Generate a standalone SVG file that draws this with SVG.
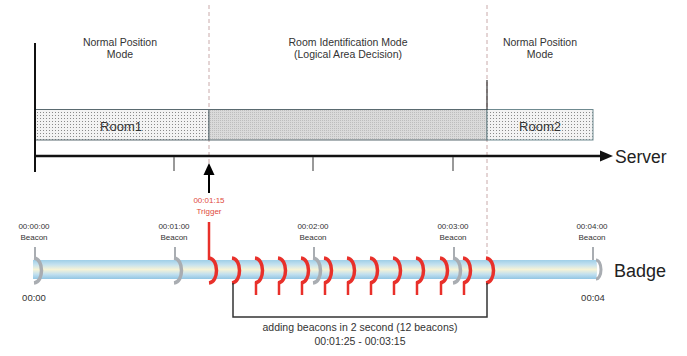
<svg xmlns="http://www.w3.org/2000/svg" width="687" height="356" viewBox="0 0 687 356">
<defs>
<pattern id="dots" width="3" height="3" patternUnits="userSpaceOnUse">
<rect width="3" height="3" fill="#f3f3f3"/><rect x="1" y="1" width="1" height="1" fill="#8a8a8a"/>
</pattern>
<pattern id="dots2" width="2" height="2" patternUnits="userSpaceOnUse">
<rect width="2" height="2" fill="#dadada"/><rect x="0" y="0" width="1" height="1" fill="#bdbdbd"/>
</pattern>
<linearGradient id="tube" x1="0" y1="0" x2="0" y2="1">
<stop offset="0" stop-color="#9fcfe8"/><stop offset="0.25" stop-color="#c6e2ef"/><stop offset="0.5" stop-color="#f6f3d6"/><stop offset="0.75" stop-color="#c2e0ef"/><stop offset="1" stop-color="#92c6e3"/>
</linearGradient>
<path id="arc" d="M-6,258 C4,259 4,282 -6,283" fill="none"/>
</defs>
<style>
text{font-family:"Liberation Sans",Arial,sans-serif;fill:#333}
.mode{font-size:10.5px}
.room{font-size:13px}
.small{font-size:8px}
.red{fill:#e04a3c}
.dash{stroke:#c9aaaa;stroke-width:1;stroke-dasharray:4,3;fill:none}
.ra{stroke:#e8302a;stroke-width:3.5;fill:none}
.ga{stroke:#a9adb2;stroke-width:3.5;fill:none}
.rs{stroke:#e8302a;stroke-width:2.5}
.gs{stroke:#a9adb2;stroke-width:2}
.tick{stroke:#555;stroke-width:1.2}
</style>
<rect width="687" height="356" fill="#fff"/>

<g id="modes">
<text class="mode" x="120" y="46" text-anchor="middle">Normal Position</text>
<text class="mode" x="120" y="58" text-anchor="middle">Mode</text>
<text class="mode" x="348" y="46" text-anchor="middle">Room Identification Mode</text>
<text class="mode" x="348" y="58" text-anchor="middle">(Logical Area Decision)</text>
<text class="mode" x="540" y="46" text-anchor="middle">Normal Position</text>
<text class="mode" x="540" y="58" text-anchor="middle">Mode</text>
</g>

<g id="guides">
<line class="dash" x1="209" y1="5" x2="209" y2="163"/>
<line class="dash" x1="487" y1="5" x2="487" y2="262"/>
</g>

<g id="room1">
<rect x="35" y="109.5" width="174" height="30.5" fill="url(#dots)" stroke="#5a6a70" stroke-width="1"/>
<text class="room" x="121" y="131" text-anchor="middle">Room1</text>
</g>
<g id="roomid">
<rect x="209" y="109.5" width="278" height="30.5" fill="url(#dots2)" stroke="#5a6a70" stroke-width="1"/>
</g>
<g id="room2">
<rect x="487" y="109.5" width="106" height="30.5" fill="url(#dots)" stroke="#6f8a90" stroke-width="1"/>
<text class="room" x="540" y="131" text-anchor="middle">Room2</text>
</g>

<g id="server">
<line x1="35" y1="43" x2="35" y2="172" stroke="#111" stroke-width="2"/>
<line x1="487" y1="80" x2="487" y2="110" stroke="#333" stroke-width="1.2"/>
<line x1="35" y1="156" x2="603" y2="156" stroke="#111" stroke-width="2.5"/>
<path d="M613,156 L600,150.5 L600,161.5 z" fill="#111"/>
<line class="tick" x1="174" y1="157" x2="174" y2="171"/>
<line class="tick" x1="313" y1="157" x2="313" y2="171"/>
<line class="tick" x1="453" y1="157" x2="453" y2="171"/>
<text x="615" y="163" font-size="17.5" style="fill:#222">Server</text>
</g>

<g id="badge">
<path d="M33,260 H596 a1,9.5 0 0 1 0,19 H33 z" fill="url(#tube)"/>
<path d="M596,260 a5,9.5 0 0 1 0,19" fill="none" stroke="#a9adb2" stroke-width="3"/>
<text x="614" y="277" font-size="18" style="fill:#222">Badge</text>
<text x="34" y="301" font-size="9.5" text-anchor="middle">00:00</text>
<text x="593" y="301" font-size="9.5" text-anchor="middle">00:04</text>
</g>

<g id="beacons">
<g transform="translate(40,0)"><use href="#arc" class="ga"/><line class="gs" x1="-5" y1="247" x2="-5" y2="259"/></g>
<g transform="translate(180,0)"><use href="#arc" class="ga"/><line class="gs" x1="-5" y1="247" x2="-5" y2="259"/></g>
<g transform="translate(319,0)"><use href="#arc" class="ga"/><line class="gs" x1="-5" y1="247" x2="-5" y2="259"/></g>
<g transform="translate(459,0)"><use href="#arc" class="ga"/><line class="gs" x1="-5" y1="247" x2="-5" y2="259"/></g>
<line class="gs" x1="593" y1="247" x2="593" y2="260"/>
<text class="small" x="34" y="229" text-anchor="middle">00:00:00</text>
<text class="small" x="34" y="240" text-anchor="middle">Beacon</text>
<text class="small" x="174" y="229" text-anchor="middle">00:01:00</text>
<text class="small" x="174" y="240" text-anchor="middle">Beacon</text>
<text class="small" x="313" y="229" text-anchor="middle">00:02:00</text>
<text class="small" x="313" y="240" text-anchor="middle">Beacon</text>
<text class="small" x="453" y="229" text-anchor="middle">00:03:00</text>
<text class="small" x="453" y="240" text-anchor="middle">Beacon</text>
<text class="small" x="592" y="229" text-anchor="middle">00:04:00</text>
<text class="small" x="592" y="240" text-anchor="middle">Beacon</text>
</g>

<g id="trigger">
<line x1="209" y1="193" x2="209" y2="172" stroke="#000" stroke-width="2"/>
<path d="M209,163 L203.5,175 L214.5,175 z" fill="#000"/>
<text class="small red" x="209" y="203" text-anchor="middle">00:01:15</text>
<text class="small red" x="209" y="214" text-anchor="middle">Trigger</text>
<line class="rs" x1="209" y1="222" x2="209" y2="260"/>
<g transform="translate(215,0)"><use href="#arc" class="ra"/></g>
</g>

<g id="added">
<g transform="translate(238,0)"><use href="#arc" class="ra"/></g>
<g transform="translate(261,0)"><use href="#arc" class="ra"/><line class="rs" x1="-5" y1="282" x2="-5" y2="295"/></g>
<g transform="translate(284,0)"><use href="#arc" class="ra"/><line class="rs" x1="-5" y1="282" x2="-5" y2="295"/></g>
<g transform="translate(307,0)"><use href="#arc" class="ra"/><line class="rs" x1="-5" y1="282" x2="-5" y2="295"/></g>
<g transform="translate(330,0)"><use href="#arc" class="ra"/><line class="rs" x1="-5" y1="282" x2="-5" y2="295"/></g>
<g transform="translate(353,0)"><use href="#arc" class="ra"/><line class="rs" x1="-5" y1="282" x2="-5" y2="295"/></g>
<g transform="translate(376,0)"><use href="#arc" class="ra"/><line class="rs" x1="-5" y1="282" x2="-5" y2="295"/></g>
<g transform="translate(399,0)"><use href="#arc" class="ra"/><line class="rs" x1="-5" y1="282" x2="-5" y2="295"/></g>
<g transform="translate(422,0)"><use href="#arc" class="ra"/><line class="rs" x1="-5" y1="282" x2="-5" y2="295"/></g>
<g transform="translate(446,0)"><use href="#arc" class="ra"/><line class="rs" x1="-5" y1="282" x2="-5" y2="295"/></g>
<g transform="translate(469,0)"><use href="#arc" class="ra"/><line class="rs" x1="-5" y1="282" x2="-5" y2="295"/></g>
<g transform="translate(492,0)"><use href="#arc" class="ra"/></g>
</g>

<g id="connectors">
<polyline points="233,283 233,317 487,317 487,283" fill="none" stroke="#333" stroke-width="1.5"/>
</g>
<g id="range">
<text x="360" y="331" font-size="10.5" text-anchor="middle">adding beacons in 2 second (12 beacons)</text>
<text x="360" y="345" font-size="10.5" text-anchor="middle">00:01:25 - 00:03:15</text>
</g>
</svg>
